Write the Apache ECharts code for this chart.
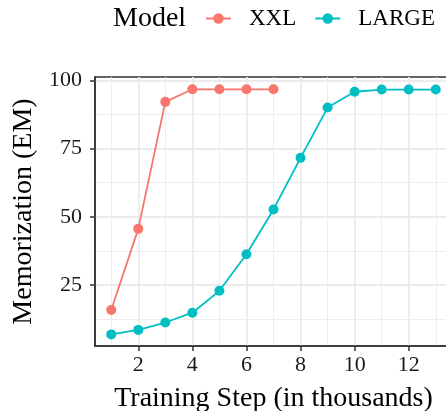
<!DOCTYPE html>
<html>
<head>
<meta charset="utf-8">
<script src="https://cdn.jsdelivr.net/npm/echarts@6/dist/echarts.min.js"></script>
<style>
html,body{margin:0;padding:0;background:#fff;}
#chart{width:446px;height:411px;}
</style>
</head>
<body>
<div id="chart"></div>
<script>
var steps = [1, 2, 3, 4, 5, 6, 7, 8, 9, 10, 11, 12, 13];
var xxlSteps = [1, 2, 3, 4, 5, 6, 7];
var xxlValues = [15.9, 45.6, 92.1, 96.7, 96.7, 96.7, 96.7];
var largeValues = [6.95, 8.6, 11.3, 14.9, 22.9, 36.3, 52.7, 71.6, 90.0, 95.8, 96.6, 96.6, 96.6];
var xMajorTicks = [2, 4, 6, 8, 10, 12];
var xMinorTicks = [1, 3, 5, 7, 9, 11, 13];
var yMajorTicks = [25, 50, 75, 100];
var yMinorTicks = [12.5, 37.5, 62.5, 87.5];
var seriesNames = ['XXL', 'LARGE'];
var colors = ['#F8766D', '#00BFC4'];

var FONT = '"Liberation Serif", "DejaVu Serif", serif';
var XMIN = 0.4, XMAX = 13.6, YMIN = 2.7, YMAX = 101.2;

function pairs(xs, ys) { return xs.map(function (x, i) { return [x, ys[i]]; }); }

var chart = echarts.init(document.getElementById('chart'), null, {renderer: 'canvas'});
var dark = '#333333';
var gridCol = '#EBEBEB';

chart.setOption({
  animation: false,
  backgroundColor: '#ffffff',
  title: {
    text: 'Model', left: 113, top: 5, padding: 0,
    textStyle: {fontFamily: FONT, fontSize: 28, fontWeight: 'normal', color: '#000'}
  },
  legend: {
    data: seriesNames, left: 205, top: 7, padding: 0,
    itemWidth: 25, itemHeight: 13, itemGap: 18,
    itemStyle: {borderWidth: 0},
    lineStyle: {width: 2},
    textStyle: {fontFamily: FONT, fontSize: 23, color: '#000', padding: [0, 0, 0, 13]}
  },
  grid: {
    left: 95, top: 77, width: 357, height: 269,
    containLabel: false, outerBoundsMode: 'none',
    show: true, borderColor: dark, borderWidth: 1.6, backgroundColor: 'transparent'
  },
  xAxis: [{
    type: 'value', min: XMIN, max: XMAX, position: 'bottom',
    name: 'Training Step (in thousands)', nameLocation: 'middle', nameGap: 39,
    nameTextStyle: {fontFamily: FONT, fontSize: 28, color: '#000'},
    axisLine: {show: true, onZero: false, lineStyle: {color: dark, width: 1.6}},
    axisTick: {show: true, length: 5, customValues: xMajorTicks, lineStyle: {color: dark, width: 1.5}},
    axisLabel: {customValues: xMajorTicks, margin: 8, fontFamily: FONT, fontSize: 22, color: '#1a1a1a'},
    splitLine: {show: true, lineStyle: {color: gridCol, width: 1.8}}
  }, {
    type: 'value', min: XMIN, max: XMAX, position: 'bottom',
    axisLine: {show: false},
    axisTick: {show: false, customValues: xMinorTicks},
    axisLabel: {show: false, customValues: xMinorTicks},
    splitLine: {show: true, lineStyle: {color: gridCol, width: 0.9}}
  }],
  yAxis: [{
    type: 'value', min: YMIN, max: YMAX, position: 'left',
    name: 'Memorization (EM)', nameLocation: 'middle', nameGap: 54,
    nameTextStyle: {fontFamily: FONT, fontSize: 28, color: '#000'},
    axisLine: {show: true, onZero: false, lineStyle: {color: dark, width: 1.6}},
    axisTick: {show: true, length: 5, customValues: yMajorTicks, lineStyle: {color: dark, width: 1.5}},
    axisLabel: {customValues: yMajorTicks, margin: 13, fontFamily: FONT, fontSize: 22, color: '#1a1a1a'},
    splitLine: {show: true, lineStyle: {color: gridCol, width: 1.8}}
  }, {
    type: 'value', min: YMIN, max: YMAX, position: 'left',
    axisLine: {show: false},
    axisTick: {show: false, customValues: yMinorTicks},
    axisLabel: {show: false, customValues: yMinorTicks},
    splitLine: {show: true, lineStyle: {color: gridCol, width: 0.9}}
  }],
  series: [{
    name: seriesNames[0], type: 'line', xAxisIndex: 0, yAxisIndex: 0,
    data: pairs(xxlSteps, xxlValues),
    symbol: 'circle', symbolSize: 10, showSymbol: true,
    itemStyle: {color: colors[0]}, lineStyle: {color: colors[0], width: 1.8}
  }, {
    name: seriesNames[1], type: 'line', xAxisIndex: 0, yAxisIndex: 0,
    data: pairs(steps, largeValues),
    symbol: 'circle', symbolSize: 10, showSymbol: true,
    itemStyle: {color: colors[1]}, lineStyle: {color: colors[1], width: 1.8}
  }]
});
</script>
</body>
</html>
